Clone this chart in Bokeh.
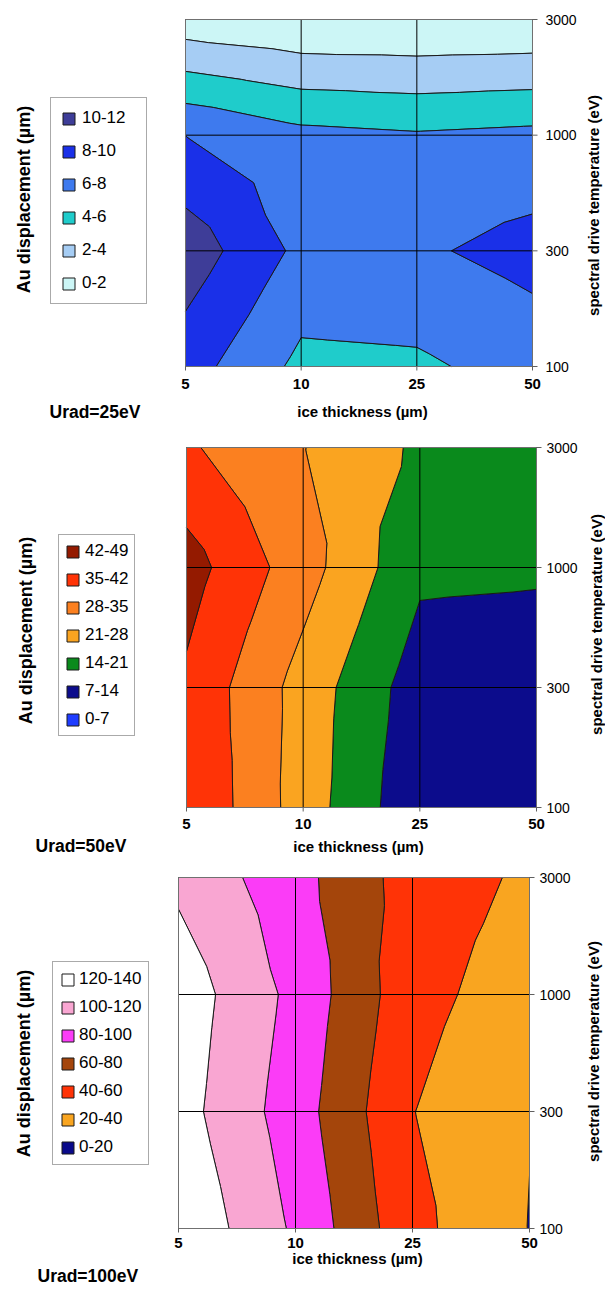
import numpy as np
import contourpy
from math import pi
from bokeh.plotting import figure
from bokeh.models import Range1d, Label, Legend, LegendItem
from bokeh.core.properties import value
from bokeh.layouts import column
from bokeh.embed import file_html
from bokeh.resources import INLINE

# ---------------- data ----------------
ice_thickness = ["5", "10", "25", "50"]            # x categories (µm)
drive_temperature = ["100", "300", "1000", "3000"]  # y categories (eV)

# Au displacement (µm); rows = drive temperature 100, 300, 1000, 3000 eV
#                        cols = ice thickness 5, 10, 25, 50 µm
disp_urad25 = [
    [8.9, 5.5, 5.66, 6.8],
    [11.2, 7.5, 7.7, 8.7],
    [7.98, 6.56, 6.2, 6.5],
    [0.76, 0.11, 0.05, 0.15],
]
disp_urad50 = [
    [41.8, 24.7, 8.5, 8.0],
    [40.7, 25.2, 10.3, 9.5],
    [45.0, 31.0, 15.4, 15.0],
    [35.95, 28.2, 19.8, 17.0],
]
disp_urad100 = [
    [137.6, 96.8, 45.6, 19.5],
    [128.2, 89.7, 40.5, 20.6],
    [131.8, 94.5, 46.9, 29.0],
    [115.6, 87.1, 50.9, 36.7],
]

levels_urad25 = [0, 2, 4, 6, 8, 10, 12]
levels_urad50 = [0, 7, 14, 21, 28, 35, 42, 49]
levels_urad100 = [0, 20, 40, 60, 80, 100, 120, 140]

colors_urad25 = ["#CCF6F6", "#A6CDF4", "#1FCCCB", "#3E7AEE", "#1A30E8", "#3E3D98"]
colors_urad50 = ["#1E3CFF", "#0C0C8C", "#0A8A1C", "#FAA420", "#FB8020", "#FF3306", "#941A00"]
colors_urad100 = ["#0A0A8A", "#F9A520", "#FF3306", "#A4450B", "#FB3CF7", "#F9A6D2", "#FFFFFF"]

FIG_W = 605
FONT = "Liberation Sans"


def make_panel(z, levels, colors, urad_text, fig_h, frame, leg, pos):
    L, T, W, H = frame            # plot area in figure pixels
    B = T + H
    n = len(ice_thickness) - 1

    def dx(px):
        return (px - L) * n / W

    def dy(py):
        return (B - py) * n / H

    p = figure(width=FIG_W, height=fig_h,
               x_range=Range1d(dx(0), dx(FIG_W)), y_range=Range1d(dy(fig_h), dy(0)),
               min_border=0, min_border_left=0, min_border_right=0,
               min_border_top=0, min_border_bottom=0,
               output_backend="svg", toolbar_location=None, tools="", title=None,
               x_axis_location=None, y_axis_location=None)
    p.outline_line_color = None
    p.background_fill_color = "white"
    p.border_fill_color = "white"
    for g in p.grid:
        g.visible = False
        g.grid_line_color = None

    # ---- filled contour bands (Excel-like: each cell split into 4 triangles)
    xs = np.arange(len(ice_thickness), dtype=float)
    ys = np.arange(len(drive_temperature), dtype=float)
    gen = contourpy.contour_generator(xs, ys, np.array(z, dtype=float), name="serial",
                                      fill_type="OuterOffset", quad_as_tri=True)
    items = []
    for lo, hi, c in zip(levels[:-1], levels[1:], colors):
        pts_l, off_l = gen.filled(lo, hi)
        mx, my = [], []
        for pts, offs in zip(pts_l, off_l):
            rx, ry = [], []
            for a, b in zip(offs[:-1], offs[1:]):
                rx.append(pts[a:b, 0].tolist())
                ry.append(pts[a:b, 1].tolist())
            mx.append(rx)
            my.append(ry)
        if not mx:  # band absent from the data: zero-area stub so the legend swatch still shows
            mx, my = [[[float(n)] * 3]], [[[0.0] * 3]]
        r = p.multi_polygons(xs=[mx], ys=[my], fill_color=c, line_color="#1a1a1a", line_width=1)
        items.append(LegendItem(label=f"{lo}-{hi}", renderers=[r]))

    idx = list(range(len(ice_thickness)))
    idy = list(range(len(drive_temperature)))
    inner_x = idx[1:-1]
    inner_y = idy[1:-1]

    # ---- grid lines at interior categories
    p.segment(x0=inner_x, y0=[0] * len(inner_x), x1=inner_x, y1=[n] * len(inner_x),
              line_color="black", line_width=1)
    p.segment(x0=[0] * len(inner_y), y0=inner_y, x1=[n] * len(inner_y), y1=inner_y,
              line_color="black", line_width=1)
    # ---- plot-area border
    p.quad(left=[0], right=[n], bottom=[0], top=[n], fill_color=None,
           line_color="#707070", line_width=1)

    # ---- x axis (bottom): ticks + labels
    tick_x = 4 * n / H
    p.segment(x0=idx, y0=[0] * len(idx), x1=idx, y1=[-tick_x] * len(idx),
              line_color="#606060", line_width=1)
    p.text(x=idx, y=[dy(pos["xlab_y"])] * len(idx), text=ice_thickness,
           text_font=value(FONT), text_font_size="15px", text_font_style="bold",
           text_align="center", text_baseline="middle", text_color="black")
    # ---- y axis (right): ticks + labels
    tick_y = 5 * n / W
    p.segment(x0=[n] * len(idy), y0=idy, x1=[n + tick_y] * len(idy), y1=idy,
              line_color="#606060", line_width=1)
    p.text(x=[dx(pos["ylab_x"])] * len(idy), y=idy, text=drive_temperature,
           text_font=value(FONT), text_font_size="14px",
           text_align="left", text_baseline="middle", text_color="black")

    def add_text(px, py, text, size, angle=0.0, align="center"):
        p.add_layout(Label(x=dx(px), y=dy(py), text=text, angle=angle, text_align=align,
                           text_baseline="middle", text_font=FONT, text_font_size=size,
                           text_font_style="bold", text_color="black"))

    add_text(*pos["left_title"], "Au displacement (µm)", "18px", angle=pi / 2)
    add_text(*pos["right_title"], "spectral drive temperature (eV)", "15px", angle=pi / 2)
    add_text(*pos["x_title"], "ice thickness (µm)", "15px")
    add_text(*pos["urad"], urad_text, "17.5px", align="left")

    # ---- legend
    vx, vy, pad, spacing, lw, stand = leg
    legend = Legend(items=items[::-1], location=(vx, vy), padding=pad, spacing=spacing,
                    margin=0, label_width=lw, label_height=20, glyph_width=15, glyph_height=15,
                    label_standoff=stand, border_line_color="#555555", border_line_width=1,
                    background_fill_color="white", background_fill_alpha=1.0,
                    label_text_font=FONT, label_text_font_size="17px", label_text_color="black")
    p.add_layout(legend)
    return p


# leg = (box left, box bottom above figure bottom, padding, spacing, label_width, label_standoff)
p1 = make_panel(disp_urad25, levels_urad25, colors_urad25, "Urad=25eV",
                fig_h=430, frame=(185, 19, 347, 347), leg=(50, 126, 10, 13, 54, 6),
                pos=dict(xlab_y=383, ylab_x=545, left_title=(23, 199), right_title=(593, 205),
                         x_title=(362, 411), urad=(49, 411)))
p2 = make_panel(disp_urad50, levels_urad50, colors_urad50, "Urad=50eV",
                fig_h=432, frame=(186, 17, 350, 360), leg=(58, 126, 6, 8, 43, 5),
                pos=dict(xlab_y=393, ylab_x=546, left_title=(25, 200), right_title=(596, 194),
                         x_title=(358, 416), urad=(35, 415)))
p3 = make_panel(disp_urad100, levels_urad100, colors_urad100, "Urad=100eV",
                fig_h=430, frame=(178, 15, 351, 351), leg=(52, 127, 7, 8, 61, 4),
                pos=dict(xlab_y=380, ylab_x=539, left_title=(23, 201), right_title=(593, 189),
                         x_title=(357, 396), urad=(37, 413)))

layout = column(p1, p2, p3)
open("out.html", "w").write(file_html(layout, INLINE))
